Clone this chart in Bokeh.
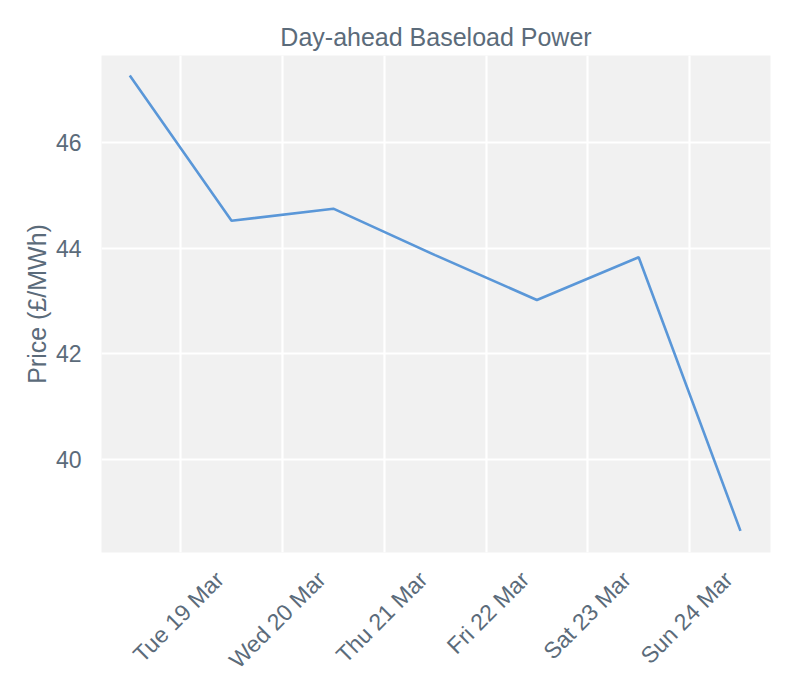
import math
import pandas as pd
from bokeh.plotting import figure
from bokeh.models import ColumnDataSource, Range1d, FixedTicker
from bokeh.embed import file_html
from bokeh.resources import INLINE

# ---- data ----
dates = ["2024-03-18 12:00", "2024-03-19 12:00", "2024-03-20 12:00", "2024-03-21 12:00",
         "2024-03-22 12:00", "2024-03-23 12:00", "2024-03-24 12:00"]
prices = [47.27, 44.52, 44.75, 43.87, 43.02, 43.83, 38.65]
tick_dates = ["2024-03-19", "2024-03-20", "2024-03-21", "2024-03-22", "2024-03-23", "2024-03-24"]
tick_labels = ["Tue 19 Mar", "Wed 20 Mar", "Thu 21 Mar", "Fri 22 Mar", "Sat 23 Mar", "Sun 24 Mar"]
y_ticks = [40, 42, 44, 46]
x_limits = ["2024-03-18 05:20", "2024-03-24 19:05"]
y_limits = [38.24, 47.65]

FONT = "Liberation Sans"
TXT = "#5b6b7a"
LINE = "#5a97d8"
BG = "#f1f1f1"

x = pd.to_datetime(dates)
xt = pd.to_datetime(tick_dates)
x0, x1 = pd.to_datetime(x_limits)
y0, y1 = y_limits

W, H = 792, 692
ML, MR, MT, MB = 101, 22, 55, 140
frame_w = W - ML - MR

p = figure(width=W, height=H, x_axis_type="datetime", output_backend="svg",
           toolbar_location=None, x_range=Range1d(x0, x1), y_range=Range1d(y0, y1),
           min_border_left=ML, min_border_right=MR, min_border_top=MT, min_border_bottom=MB,
           title="Day-ahead Baseload Power")
p.background_fill_color = BG
p.border_fill_color = "white"
p.outline_line_color = None

p.title.align = "center"
p.title.text_font = FONT
p.title.text_font_size = "25px"
p.title.text_font_style = "normal"
p.title.text_color = TXT
p.title.standoff = 9

src = ColumnDataSource(dict(x=x, y=prices))
p.line("x", "y", source=src, line_color=LINE, line_width=2.6)

# grid at the true day boundaries
tick_ms = [int(t.value // 10**6) for t in xt]
p.xgrid.ticker = FixedTicker(ticks=tick_ms)
p.xgrid.grid_line_color = "white"
p.xgrid.grid_line_width = 2.2
p.ygrid.grid_line_color = "white"
p.ygrid.grid_line_width = 2.2

# x axis: rotated labels; Bokeh anchors the label end at the tick, so the
# label anchors are moved right so that each label is centred on its day line
ms_per_px = (x1 - x0).total_seconds() * 1000 / frame_w
shift = int(39 * ms_per_px)
lab_ticks = [t + shift for t in tick_ms]
xa = p.xaxis[0]
xa.ticker = FixedTicker(ticks=lab_ticks)
xa.major_label_overrides = {t: lab for t, lab in zip(lab_ticks, tick_labels)}
xa.major_label_orientation = math.pi / 4
xa.axis_line_color = None
xa.major_tick_line_color = None
xa.minor_tick_line_color = None
xa.major_tick_out = 0
xa.major_tick_in = 0
xa.major_label_standoff = 23
xa.major_label_text_font = FONT
xa.major_label_text_font_size = "23px"
xa.major_label_text_color = TXT

ya = p.yaxis[0]
ya.ticker = FixedTicker(ticks=y_ticks)
ya.axis_line_color = None
ya.major_tick_line_color = None
ya.minor_tick_line_color = None
ya.major_tick_out = 0
ya.major_tick_in = 0
ya.major_label_standoff = 20
ya.major_label_text_font = FONT
ya.major_label_text_font_size = "23px"
ya.major_label_text_color = TXT
ya.axis_label = "Price (£/MWh)"
ya.axis_label_text_font = FONT
ya.axis_label_text_font_size = "25px"
ya.axis_label_text_font_style = "normal"
ya.axis_label_text_color = TXT
ya.axis_label_standoff = 2

open("out.html", "w").write(file_html(p, INLINE))
